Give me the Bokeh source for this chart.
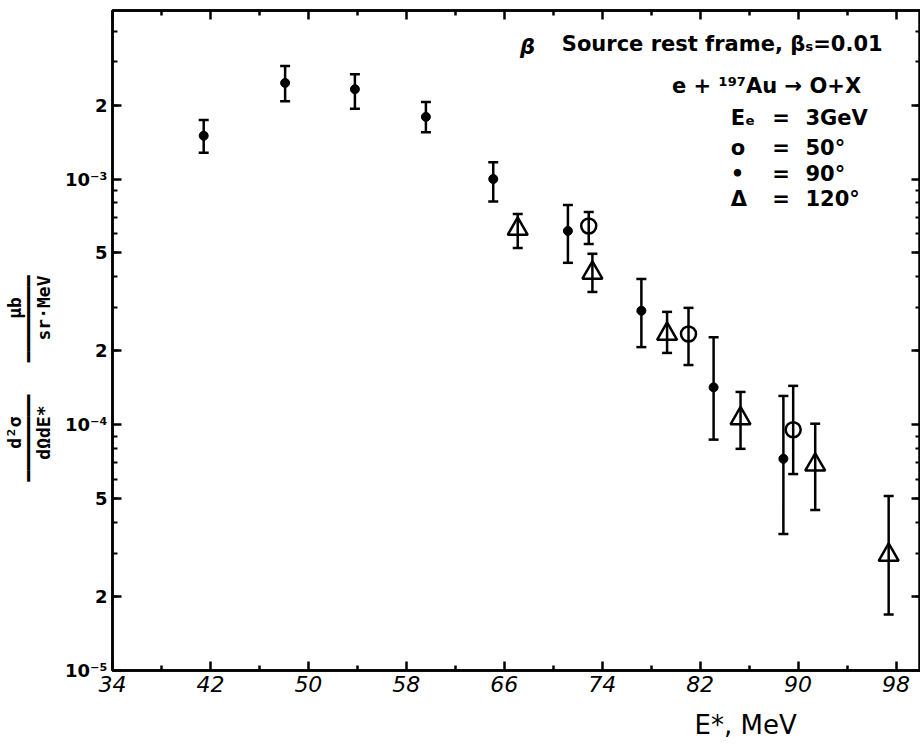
from bokeh.plotting import figure
from bokeh.models import Range1d, FixedTicker, LinearAxis, LogAxis, Label, Title
from bokeh.embed import file_html
from bokeh.resources import INLINE

# ---- data ----
# 90 degrees (filled circles)
e_90 = [41.45, 48.1, 53.8, 59.6, 65.1, 71.2, 77.2, 83.1, 88.8]
s_90 = [1.50e-3, 2.46e-3, 2.32e-3, 1.79e-3, 1.00e-3, 6.15e-4, 2.91e-4, 1.42e-4, 7.27e-5]
hi_90 = [1.74e-3, 2.88e-3, 2.67e-3, 2.06e-3, 1.17e-3, 7.84e-4, 3.92e-4, 2.27e-4, 1.31e-4]
lo_90 = [1.28e-3, 2.07e-3, 1.93e-3, 1.55e-3, 8.1e-4, 4.56e-4, 2.07e-4, 8.7e-5, 3.59e-5]

# 50 degrees (open circles)
e_50 = [72.9, 81.05, 89.6]
s_50 = [6.44e-4, 2.34e-4, 9.54e-5]
hi_50 = [7.34e-4, 2.99e-4, 1.44e-4]
lo_50 = [5.44e-4, 1.75e-4, 6.3e-5]

# 120 degrees (open triangles)
e_120 = [67.1, 73.2, 79.3, 85.3, 91.4, 97.4]
s_120 = [6.26e-4, 4.15e-4, 2.34e-4, 1.06e-4, 6.87e-5, 2.95e-5]
hi_120 = [7.21e-4, 4.96e-4, 2.88e-4, 1.36e-4, 1.01e-4, 5.13e-5]
lo_120 = [5.24e-4, 3.47e-4, 1.96e-4, 7.98e-5, 4.5e-5, 1.69e-5]

x_ticks = [34, 42, 50, 58, 66, 74, 82, 90, 98]
x_minor = [38, 46, 54, 62, 70, 78, 86, 94]
y_ticks = [1e-5, 2e-5, 5e-5, 1e-4, 2e-4, 5e-4, 1e-3, 2e-3]
y_tick_labels = ["10⁻⁵", "2", "5", "10⁻⁴", "2", "5", "10⁻³", "2"]
y_minor = [m * 10.0 ** d for d in (-5, -4, -3) for m in range(2, 10)]

# y-axis title: two stacked fractions
frac_num = ["d²σ", "μb"]
frac_den = ["dΩdE*", "sr·MeV"]

FONT = "DejaVu Sans"
NB = "\u00a0"

p = figure(width=920, height=756, x_range=Range1d(34, 100), y_range=Range1d(1e-5, 4.85e-3),
           y_axis_type="log", output_backend="svg", toolbar_location=None,
           min_border_left=112, min_border_top=10, min_border_right=0, min_border_bottom=86,
           background_fill_color="white", border_fill_color="white")
p.xgrid.visible = False
p.ygrid.visible = False
p.outline_line_color = "black"
p.outline_line_width = 2.5

# bottom axis
xa = p.xaxis[0]
xa.ticker = FixedTicker(ticks=x_ticks, minor_ticks=x_minor)
xa.major_tick_in = 9
xa.major_tick_out = 0
xa.minor_tick_in = 5
xa.minor_tick_out = 0
xa.axis_line_width = 2.5
xa.major_tick_line_width = 2.5
xa.minor_tick_line_width = 2.5
xa.major_label_text_font = FONT
xa.major_label_text_font_style = "italic"
xa.major_label_text_font_size = "22px"
xa.major_label_text_color = "black"
xa.major_label_standoff = 5

# left axis
ya = p.yaxis[0]
ya.ticker = FixedTicker(ticks=y_ticks, minor_ticks=y_minor)
ya.major_label_overrides = {t: l for t, l in zip(y_ticks, y_tick_labels)}
ya.major_tick_in = 9
ya.major_tick_out = 0
ya.minor_tick_in = 5
ya.minor_tick_out = 0
ya.axis_line_width = 2.5
ya.major_tick_line_width = 2.5
ya.minor_tick_line_width = 2
ya.major_label_text_font = FONT
ya.major_label_text_font_size = "18px"
ya.major_label_text_font_style = "bold"
ya.major_label_text_color = "black"
ya.major_label_standoff = 5

# multi-line rotated axis title built from the fraction parts (monospace columns)
cols = [9, 9]
gap = 2
trail = 6
line1 = (NB * gap).join(n.center(w) for n, w in zip(frac_num, cols)) + " " * trail
line2 = (NB * gap).join("━" * (w - 1) + " " for w in cols) + " " * trail
line3 = (NB * gap).join(d.center(w) for d, w in zip(frac_den, cols)) + " " * trail
ya.axis_label = "\n".join(s.replace(" ", NB) for s in (line1, line2, line3))
ya.axis_label_text_font = "DejaVu Sans Mono"
ya.axis_label_text_font_size = "18px"
ya.axis_label_text_font_style = "bold"
ya.axis_label_text_color = "black"
ya.axis_label_text_line_height = 0.7
ya.axis_label_standoff = 8

# top and right axes (ticks only)
top = LinearAxis(ticker=FixedTicker(ticks=x_ticks, minor_ticks=x_minor),
                 major_tick_in=9, major_tick_out=0, minor_tick_in=5, minor_tick_out=0,
                 axis_line_width=2.5, major_tick_line_width=2.5, minor_tick_line_width=2.5,
                 major_label_text_font_size="1px", major_label_text_color=None,
                 major_label_standoff=0)
p.add_layout(top, "above")
right = LogAxis(ticker=FixedTicker(ticks=y_ticks, minor_ticks=y_minor),
                major_tick_in=9, major_tick_out=0, minor_tick_in=5, minor_tick_out=0,
                axis_line_width=2.5, major_tick_line_width=2.5, minor_tick_line_width=2,
                major_label_text_font_size="1px", major_label_text_color=None,
                major_label_standoff=0)
p.add_layout(right, "right")

# error bars
for e, hi, lo in ((e_90, hi_90, lo_90), (e_50, hi_50, lo_50), (e_120, hi_120, lo_120)):
    p.segment(x0=e, y0=lo, x1=e, y1=hi, line_color="black", line_width=2.5)
    p.scatter(x=e, y=hi, marker="dash", size=10, line_color="black", line_width=2.5)
    p.scatter(x=e, y=lo, marker="dash", size=10, line_color="black", line_width=2.5)

p.scatter(x=e_90, y=s_90, marker="circle", size=9, fill_color="black", line_color="black")
p.scatter(x=e_50, y=s_50, marker="circle", size=15, fill_color=None, line_color="black", line_width=2.5)
p.scatter(x=e_120, y=s_120, marker="triangle", size=20, fill_color=None, line_color="black", line_width=2.5)


def add_label(x, y, text, size="21px", align="left", style="bold"):
    p.add_layout(Label(x=x, y=y, text=text, text_font=FONT, text_font_size=size,
                       text_align=align, text_baseline="middle",
                       text_font_style=style, text_color="black"))


# legend block
add_label(67.9, 3.43e-3, "β", align="center", style="bold italic")
add_label(70.7, 3.55e-3, "Source rest frame, βₛ=0.01")
add_label(79.7, 2.40e-3, "e + ¹⁹⁷Au → O+X")
rows_y = [1.77e-3, 1.34e-3, 1.05e-3, 8.3e-4]
rows_sym = ["Eₑ", "o", "•", "Δ"]
rows_val = ["3GeV", "50°", "90°", "120°"]
for yy, s, v in zip(rows_y, rows_sym, rows_val):
    add_label(84.5, yy, s)
    add_label(88.6, yy, "=", align="center")
    add_label(90.6, yy, v)

# x-axis title, offset to the right as in the original
p.add_layout(Title(text="E*, MeV", align="left", offset=582, text_font=FONT,
                   text_font_size="26px", text_font_style="normal", text_color="black",
                   standoff=26), "below")

open("out.html", "w").write(file_html(p, INLINE))
